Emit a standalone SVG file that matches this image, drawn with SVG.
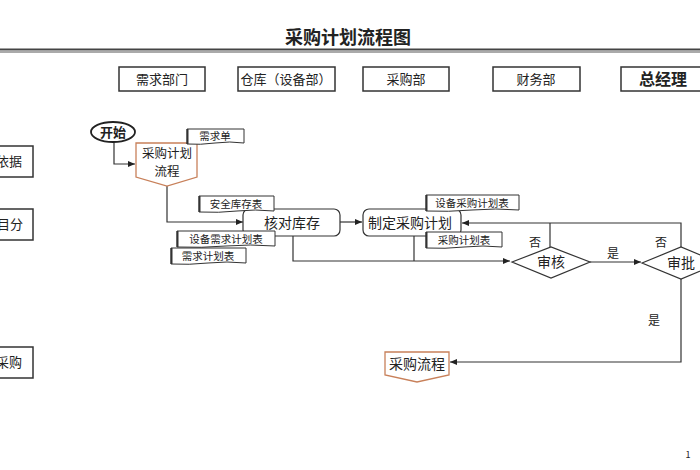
<svg xmlns="http://www.w3.org/2000/svg" width="700" height="470" viewBox="0 0 700 470">
<defs>
<style>
text{font-family:"Noto Sans CJK SC","Liberation Sans",sans-serif;fill:#222}
.hdr{fill:#fff;stroke:#333;stroke-width:1.5}
.ht{font-size:13px;text-anchor:middle}
.doc{fill:#fff;stroke:#333;stroke-width:1}
.dt{font-size:10.5px;text-anchor:middle}
.proc{fill:#fff;stroke:#333;stroke-width:1.2}
.off{fill:#fff;stroke:#c8805a;stroke-width:1.3}
.pt{font-size:14px;text-anchor:middle}
.ln{fill:none;stroke:#333;stroke-width:1.2}
.lbl{font-size:12px;text-anchor:middle}
</style>
<marker id="ah" markerWidth="8" markerHeight="8" refX="7" refY="4" orient="auto" markerUnits="userSpaceOnUse">
<path d="M0,1 L7,4 L0,7 Z" fill="#222"/>
</marker>
</defs>
<rect width="700" height="470" fill="#fff"/>
<text x="348" y="44" font-size="18" font-weight="bold" text-anchor="middle">采购计划流程图</text>
<line x1="0" y1="49.5" x2="700" y2="49.5" stroke="#444" stroke-width="2"/>
<line x1="0" y1="52" x2="700" y2="52" stroke="#aaa" stroke-width="2"/>

<g id="lane-xuqiu"><rect class="hdr" x="119" y="67" width="86" height="24"/><text class="ht" x="162" y="84">需求部门</text></g>
<g id="lane-cangku"><rect class="hdr" x="238" y="67" width="97" height="24"/><text class="ht" x="286" y="84">仓库（设备部）</text></g>
<g id="lane-caigou"><rect class="hdr" x="363" y="67" width="86" height="24"/><text class="ht" x="406" y="84">采购部</text></g>
<g id="lane-caiwu"><rect class="hdr" x="493" y="67" width="87" height="24"/><text class="ht" x="536" y="84">财务部</text></g>
<g id="lane-zjl"><rect class="hdr" x="621" y="67" width="80" height="24"/><text x="663" y="85" font-size="16" font-weight="bold" text-anchor="middle">总经理</text></g>

<g id="left-1"><rect class="hdr" x="-5" y="146" width="38" height="31"/><text x="-4" y="166" font-size="13">依据</text></g>
<g id="left-2"><rect class="hdr" x="-5" y="209" width="38" height="31"/><text x="-3" y="229" font-size="13">目分</text></g>
<g id="left-3"><rect class="hdr" x="-5" y="347" width="38" height="31"/><text x="-4" y="367" font-size="13">采购</text></g>

<g id="connectors">
<path class="ln" d="M114,142 V164 H135" marker-end="url(#ah)"/>
<path class="ln" d="M167,186 V222 H243" marker-end="url(#ah)"/>
<path class="ln" d="M340,222 H362" marker-end="url(#ah)"/>
<path class="ln" d="M293,236 V261 H510" marker-end="url(#ah)"/>
<path class="ln" d="M414,236 V261"/>
<path class="ln" d="M550,247 V223"/>
<path class="ln" d="M681,247 V223 H462" marker-end="url(#ah)"/>
<path class="ln" d="M590,262 H641" marker-end="url(#ah)"/>
<path class="ln" d="M681,279 V362 H450" marker-end="url(#ah)"/>
</g>

<g id="start"><ellipse cx="113" cy="132" rx="22" ry="10" fill="#fff" stroke="#222" stroke-width="1.8"/><text x="113" y="137" font-size="13" font-weight="bold" text-anchor="middle">开始</text></g>

<g id="plan-flow"><path class="off" d="M136,143 H197 V177 L167,186 L136,177 Z"/><text x="167" y="158" font-size="12.5" text-anchor="middle">采购计划</text><text x="167" y="176" font-size="12.5" text-anchor="middle">流程</text></g>

<g id="doc-xuqiudan"><path class="doc" d="M187,129 H244 V143 Q230,141 215,143 T187,144 Z"/><line x1="187.5" y1="129" x2="187.5" y2="144" stroke="#333" stroke-width="2"/><text class="dt" x="215" y="140">需求单</text></g>

<g id="check-stock"><rect class="proc" x="243" y="209" width="97" height="27" rx="6"/><text class="pt" x="292" y="228">核对库存</text></g>

<g id="doc-anquan"><path class="doc" d="M199,196 H274 V211 Q255,209 237,211 T199,212 Z"/><line x1="199.5" y1="196" x2="199.5" y2="212" stroke="#333" stroke-width="2"/><text class="dt" x="236" y="208">安全库存表</text></g>
<g id="doc-shebei-xuqiu"><path class="doc" d="M177,231 H275 V246 Q250,244 226,246 T177,247 Z"/><line x1="177.5" y1="231" x2="177.5" y2="247" stroke="#333" stroke-width="2"/><text class="dt" x="226" y="243">设备需求计划表</text></g>
<g id="doc-xuqiu-plan"><path class="doc" d="M171,248 H246 V263 Q227,261 208,263 T171,264 Z"/><line x1="171.5" y1="248" x2="171.5" y2="264" stroke="#333" stroke-width="2"/><text class="dt" x="208" y="260">需求计划表</text></g>

<g id="make-plan"><rect class="proc" x="363" y="209" width="98" height="27" rx="6"/><text class="pt" x="410" y="228">制定采购计划</text></g>

<g id="doc-shebei-caigou"><path class="doc" d="M426,195 H519 V210 Q496,208 472,210 T426,211 Z"/><line x1="426.5" y1="195" x2="426.5" y2="211" stroke="#333" stroke-width="2"/><text class="dt" x="472" y="207">设备采购计划表</text></g>
<g id="doc-caigou-plan"><path class="doc" d="M426,232 H502 V247 Q483,245 464,247 T426,248 Z"/><line x1="426.5" y1="232" x2="426.5" y2="248" stroke="#333" stroke-width="2"/><text class="dt" x="464" y="244">采购计划表</text></g>

<g id="review"><path class="proc" d="M512,262 L551,247 L590,262 L551,278 Z"/><text class="pt" x="551" y="267">审核</text></g>
<g id="approve"><path class="proc" d="M642,263 L681,247 L720,263 L681,279 Z"/><text class="pt" x="681" y="268">审批</text></g>

<text class="lbl" x="535" y="247">否</text>
<text class="lbl" x="661" y="247">否</text>
<text class="lbl" x="613" y="258">是</text>
<text class="lbl" x="654" y="325">是</text>

<g id="purchase-flow"><path class="off" d="M385,352 H449 V375 L417,382 L385,375 Z"/><text class="pt" x="417" y="369">采购流程</text></g>

<text x="688" y="458" font-size="9" text-anchor="middle">1</text>
</svg>
